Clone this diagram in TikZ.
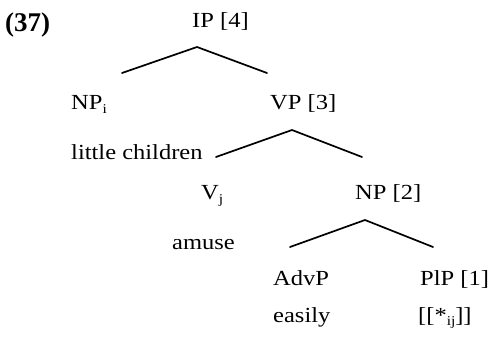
\documentclass[tikz,border=0pt]{standalone}
\usepackage{fontspec}
\setmainfont{Liberation Serif}[FakeStretch=1.14]
\newfontfamily\numfont{Liberation Serif}
\newcommand\sbs[1]{\raisebox{-0.35ex}{\fontsize{13.5}{14}\selectfont #1}}
\begin{document}
\begin{tikzpicture}[x=1pt,y=-1pt,
  lbl/.style={anchor=base west,inner sep=0pt,font=\fontsize{21.5}{24}\selectfont},
  branch/.style={line width=1.7pt,line cap=round,line join=round}]
\useasboundingbox (0,0) rectangle (491,337);

% example number
\node[anchor=base west,inner sep=0pt,font=\numfont\bfseries\fontsize{27}{30}\selectfont] (ex) at (5,32) {(37)};

% category labels and words
\node[lbl] (ip)   at (192,28)  {IP [4]};
\node[lbl] (npi)  at (71,110)  {NP\sbs{i}};
\node[lbl] (vp)   at (270,110) {VP [3]};
\node[lbl] (lc)   at (71,160)  {little children};
\node[lbl] (vj)   at (201,200) {V\sbs{j}};
\node[lbl] (np)   at (355,200) {NP [2]};
\node[lbl] (am)   at (172,249) {amuse};
\node[lbl] (advp) at (273,285) {AdvP};
\node[lbl] (plp)  at (420,285) {PlP [1]};
\node[lbl] (eas)  at (273,322) {easily};
\node[lbl] (tr)   at (418,322) {[[*\sbs{ij}]]};

% branch points
\coordinate (ipTop) at (197,47);
\coordinate (ipL)   at (122,73);
\coordinate (ipR)   at (267,73);
\coordinate (vpTop) at (292,130);
\coordinate (vpL)   at (216,157);
\coordinate (vpR)   at (362,157);
\coordinate (npTop) at (365,220);
\coordinate (npL)   at (290,247);
\coordinate (npR)   at (433,247);

% branches
\draw[branch] (ipL) -- (ipTop) -- (ipR);
\draw[branch] (vpL) -- (vpTop) -- (vpR);
\draw[branch] (npL) -- (npTop) -- (npR);
\end{tikzpicture}
\end{document}
